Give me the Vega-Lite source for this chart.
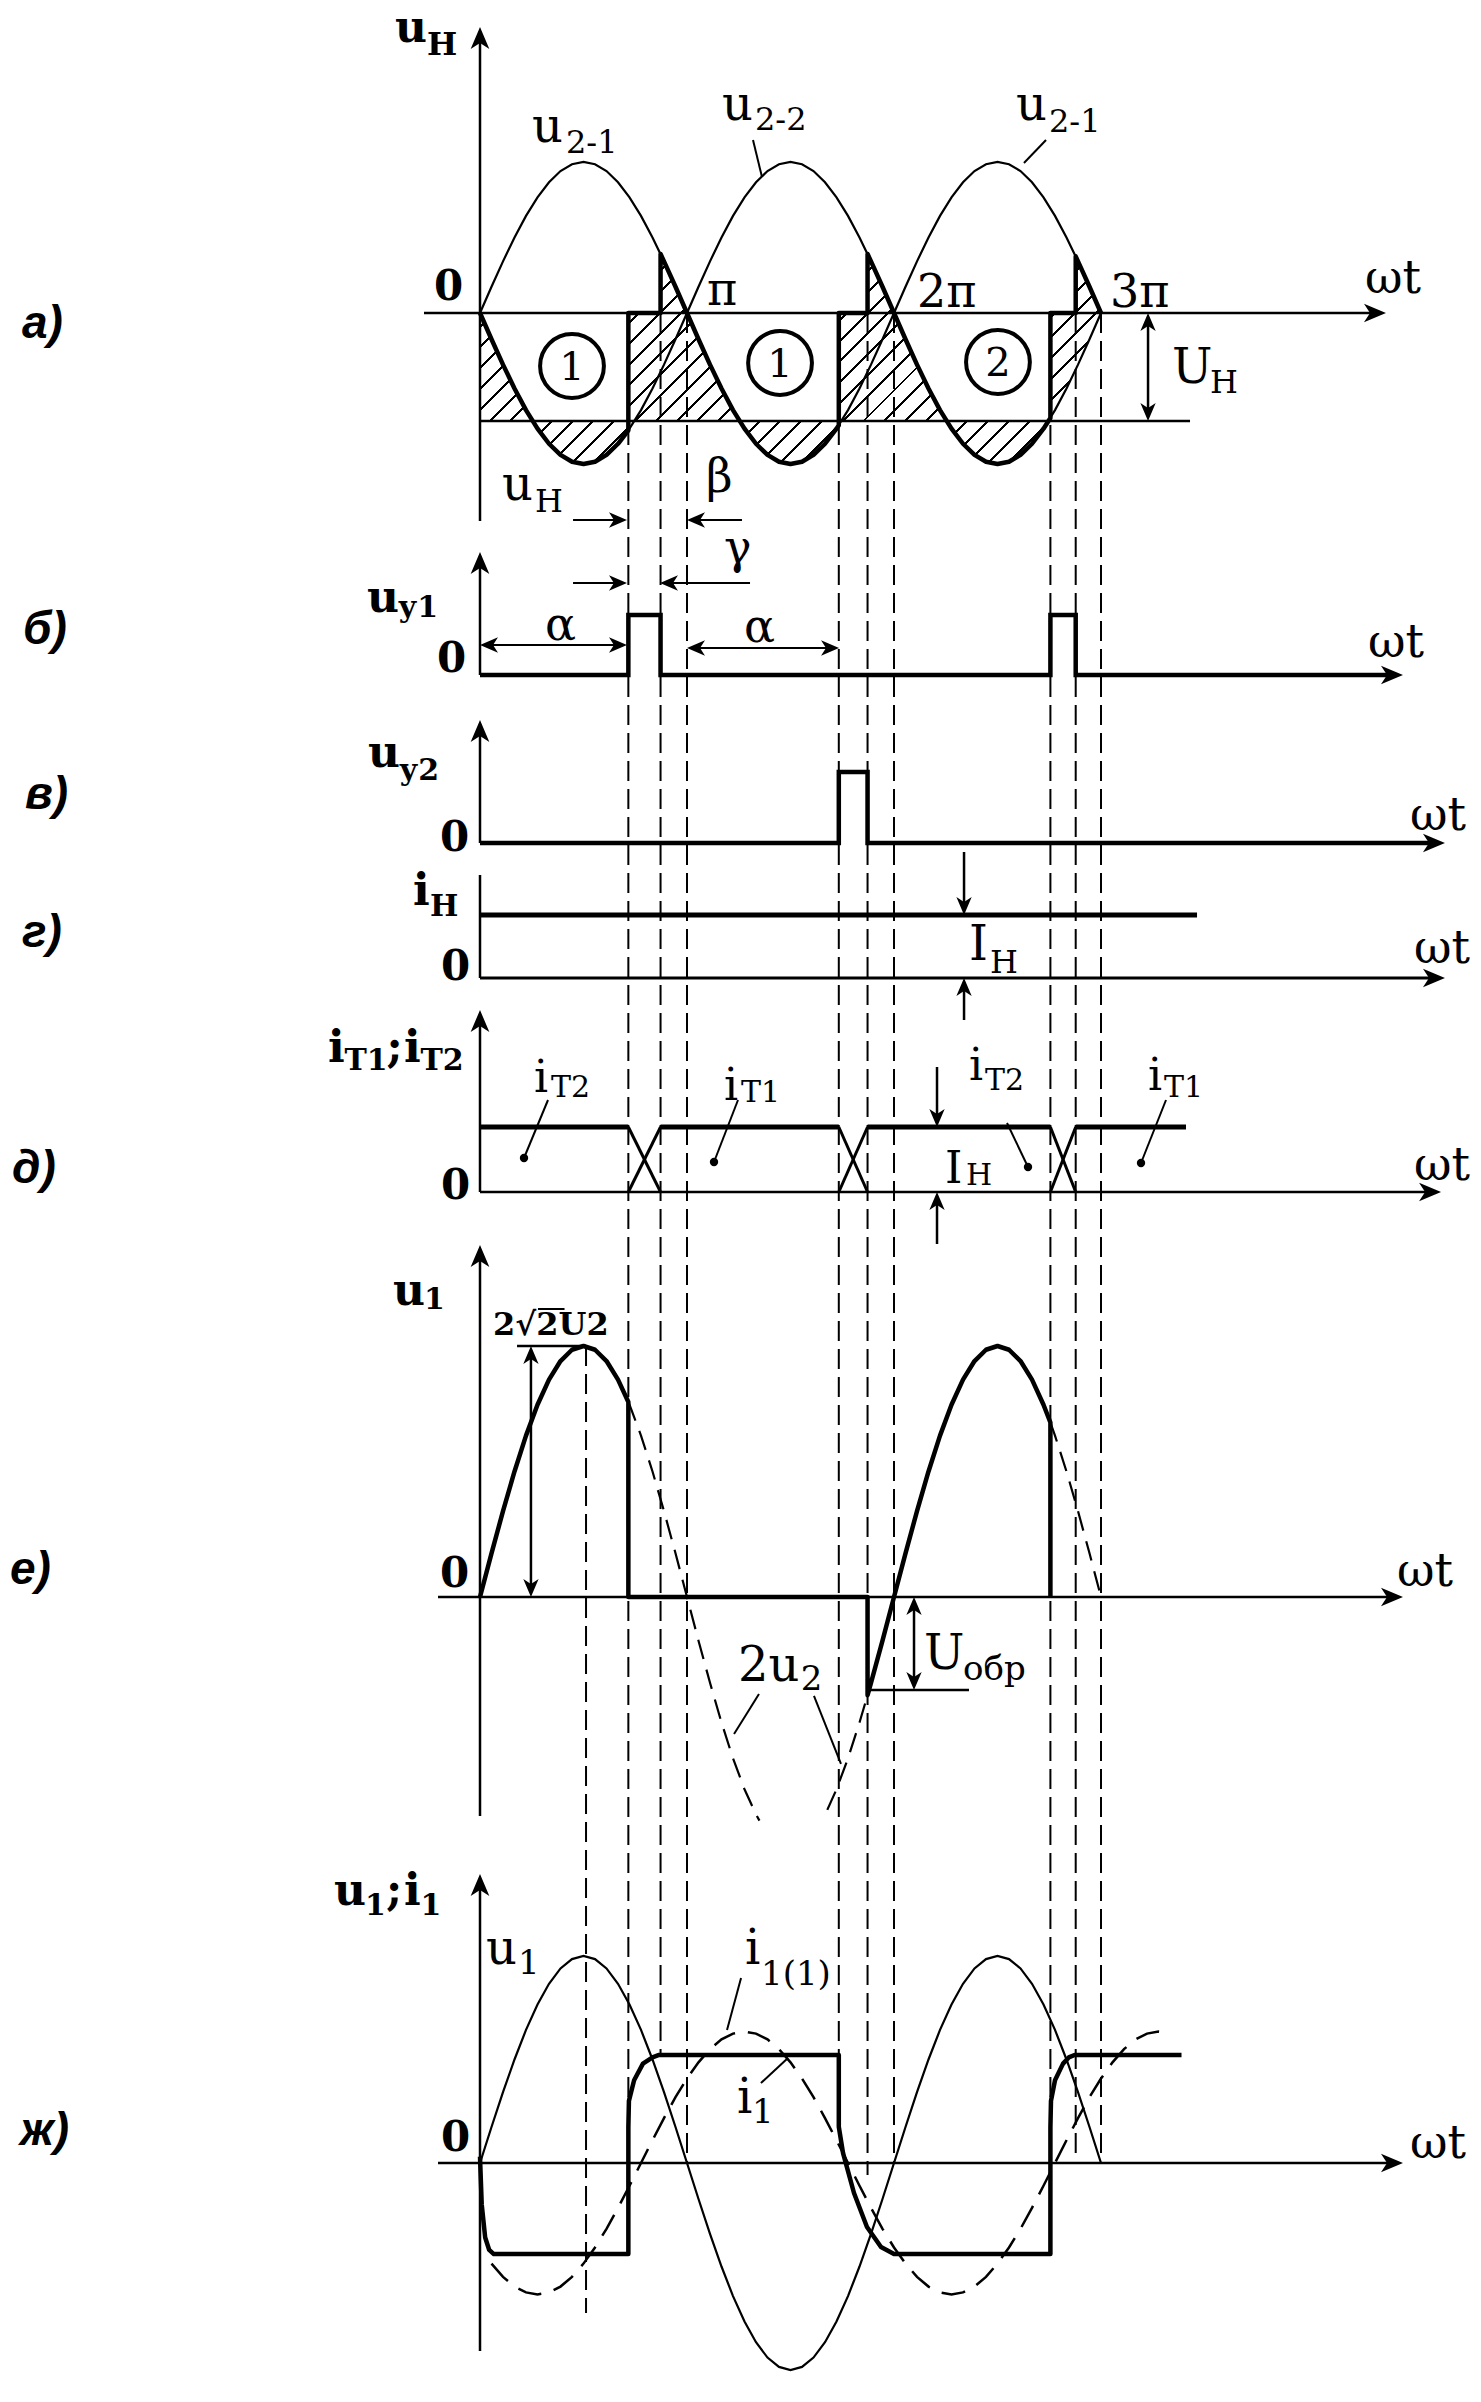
{
"$schema":"https://vega.github.io/schema/vega-lite/v6.json",
"width":1481,"height":2402,
"autosize":{"type":"fit","contains":"padding"},
"padding":0,
"background":"white",
"config":{"view":{"stroke":null},"mark":{"color":"black"},"text":{"font":"DejaVu Serif","align":"left","baseline":"alphabetic","color":"black"}},
"encoding":{"x":{"field":"t","type":"quantitative","scale":{"domain":[-417.39,870.43],"nice":false,"zero":false},"axis":null}},
"resolve":{"scale":{"y":"independent"}},
"datasets":{
"sine":[{"t":0,"v":0},{"t":10,"v":0.174},{"t":20,"v":0.342},{"t":30,"v":0.5},{"t":40,"v":0.643},{"t":50,"v":0.766},{"t":60,"v":0.866},{"t":70,"v":0.94},{"t":80,"v":0.985},{"t":90,"v":1},{"t":100,"v":0.985},{"t":110,"v":0.94},{"t":120,"v":0.866},{"t":130,"v":0.766},{"t":140,"v":0.643},{"t":150,"v":0.5},{"t":160,"v":0.342},{"t":170,"v":0.174},{"t":180,"v":0},{"t":190,"v":-0.174},{"t":200,"v":-0.342},{"t":210,"v":-0.5},{"t":220,"v":-0.643},{"t":230,"v":-0.766},{"t":240,"v":-0.866},{"t":250,"v":-0.94},{"t":260,"v":-0.985},{"t":270,"v":-1},{"t":280,"v":-0.985},{"t":290,"v":-0.94},{"t":300,"v":-0.866},{"t":310,"v":-0.766},{"t":320,"v":-0.643},{"t":330,"v":-0.5},{"t":340,"v":-0.342},{"t":350,"v":-0.174},{"t":360,"v":0},{"t":370,"v":0.174},{"t":380,"v":0.342},{"t":390,"v":0.5},{"t":400,"v":0.643},{"t":410,"v":0.766},{"t":420,"v":0.866},{"t":430,"v":0.94},{"t":440,"v":0.985},{"t":450,"v":1},{"t":460,"v":0.985},{"t":470,"v":0.94},{"t":480,"v":0.866},{"t":490,"v":0.766},{"t":500,"v":0.643},{"t":510,"v":0.5},{"t":520,"v":0.342},{"t":530,"v":0.174},{"t":540,"v":0}],
"nsine":[{"t":0,"v":0},{"t":10,"v":-0.174},{"t":20,"v":-0.342},{"t":30,"v":-0.5},{"t":40,"v":-0.643},{"t":50,"v":-0.766},{"t":60,"v":-0.866},{"t":70,"v":-0.94},{"t":80,"v":-0.985},{"t":90,"v":-1},{"t":100,"v":-0.985},{"t":110,"v":-0.94},{"t":120,"v":-0.866},{"t":130,"v":-0.766},{"t":140,"v":-0.643},{"t":150,"v":-0.5},{"t":160,"v":-0.342},{"t":170,"v":-0.174},{"t":180,"v":0},{"t":190,"v":0.174},{"t":200,"v":0.342},{"t":210,"v":0.5},{"t":220,"v":0.643},{"t":230,"v":0.766},{"t":240,"v":0.866},{"t":250,"v":0.94},{"t":260,"v":0.985},{"t":270,"v":1},{"t":280,"v":0.985},{"t":290,"v":0.94},{"t":300,"v":0.866},{"t":310,"v":0.766},{"t":320,"v":0.643},{"t":330,"v":0.5},{"t":340,"v":0.342},{"t":350,"v":0.174},{"t":360,"v":0},{"t":370,"v":-0.174},{"t":380,"v":-0.342},{"t":390,"v":-0.5},{"t":400,"v":-0.643},{"t":410,"v":-0.766},{"t":420,"v":-0.866},{"t":430,"v":-0.94},{"t":440,"v":-0.985},{"t":450,"v":-1},{"t":460,"v":-0.985},{"t":470,"v":-0.94},{"t":480,"v":-0.866},{"t":490,"v":-0.766},{"t":500,"v":-0.643},{"t":510,"v":-0.5},{"t":520,"v":-0.342},{"t":530,"v":-0.174},{"t":540,"v":0}],
"a_uh":[{"t":0,"v":0,"lo":-0.715},{"t":10,"v":-0.174,"lo":-0.715},{"t":20,"v":-0.342,"lo":-0.715},{"t":30,"v":-0.5,"lo":-0.715},{"t":40,"v":-0.643,"lo":-0.715},{"t":50,"v":-0.766,"lo":-0.715},{"t":60,"v":-0.866,"lo":-0.715},{"t":70,"v":-0.94,"lo":-0.715},{"t":80,"v":-0.985,"lo":-0.715},{"t":90,"v":-1,"lo":-0.715},{"t":100,"v":-0.985,"lo":-0.715},{"t":110,"v":-0.94,"lo":-0.715},{"t":120,"v":-0.866,"lo":-0.715},{"t":129,"v":-0.777,"lo":-0.715},{"t":129.01,"v":0,"lo":-0.715},{"t":157,"v":0,"lo":-0.715},{"t":157.01,"v":0.391,"lo":-0.715},{"t":160,"v":0.342,"lo":-0.715},{"t":170,"v":0.174,"lo":-0.715},{"t":180,"v":0,"lo":-0.715},{"t":190,"v":-0.174,"lo":-0.715},{"t":200,"v":-0.342,"lo":-0.715},{"t":210,"v":-0.5,"lo":-0.715},{"t":220,"v":-0.643,"lo":-0.715},{"t":230,"v":-0.766,"lo":-0.715},{"t":240,"v":-0.866,"lo":-0.715},{"t":250,"v":-0.94,"lo":-0.715},{"t":260,"v":-0.985,"lo":-0.715},{"t":270,"v":-1,"lo":-0.715},{"t":280,"v":-0.985,"lo":-0.715},{"t":290,"v":-0.94,"lo":-0.715},{"t":300,"v":-0.866,"lo":-0.715},{"t":310,"v":-0.766,"lo":-0.715},{"t":312,"v":-0.743,"lo":-0.715},{"t":312.01,"v":0,"lo":-0.715},{"t":337,"v":0,"lo":-0.715},{"t":337.01,"v":0.391,"lo":-0.715},{"t":340,"v":0.342,"lo":-0.715},{"t":350,"v":0.174,"lo":-0.715},{"t":360,"v":0,"lo":-0.715},{"t":370,"v":-0.174,"lo":-0.715},{"t":380,"v":-0.342,"lo":-0.715},{"t":390,"v":-0.5,"lo":-0.715},{"t":400,"v":-0.643,"lo":-0.715},{"t":410,"v":-0.766,"lo":-0.715},{"t":420,"v":-0.866,"lo":-0.715},{"t":430,"v":-0.94,"lo":-0.715},{"t":440,"v":-0.985,"lo":-0.715},{"t":450,"v":-1,"lo":-0.715},{"t":460,"v":-0.985,"lo":-0.715},{"t":470,"v":-0.94,"lo":-0.715},{"t":480,"v":-0.866,"lo":-0.715},{"t":490,"v":-0.766,"lo":-0.715},{"t":496,"v":-0.695,"lo":-0.715},{"t":496.01,"v":0,"lo":-0.695},{"t":500,"v":0,"lo":-0.643},{"t":510,"v":0,"lo":-0.5},{"t":518,"v":0,"lo":-0.375},{"t":518.01,"v":0.375,"lo":-0.375},{"t":520,"v":0.342,"lo":-0.342},{"t":530,"v":0.174,"lo":-0.174},{"t":540,"v":0,"lo":0}],
"a_h":[{"t":-48.7,"t2":780,"v":0},{"t":0,"t2":617.4,"v":-0.7152}],
"a_v":[{"t":0,"v":-1.377,"v2":1.8},{"t":580.9,"v":-0.05,"v2":-0.665}],
"a_seg":[{"t":237.4,"t2":245.2,"v":1.1457,"v2":0.9007},{"t":492.2,"t2":473.0,"v":1.1457,"v2":0.9934},{"t":80.9,"t2":121,"v":-1.3709,"v2":-1.3709},{"t":227.8,"t2":187,"v":-1.3709,"v2":-1.3709}],
"a_ax":[{"t":787.8,"v":0,"d":"r"},{"t":0,"v":1.894,"d":"u"}],
"a_dim":[{"t":580.9,"v":0,"d":"u"},{"t":580.9,"v":-0.7152,"d":"d"},{"t":127.8,"v":-1.3709,"d":"r"},{"t":180,"v":-1.3709,"d":"l"}],
"a_circ":[{"t":80,"v":-0.351,"s":"1"},{"t":260.9,"v":-0.331,"s":"1"},{"t":450.4,"v":-0.3245,"s":"2"}],
"a_M":[{"t":45.22,"v":1.1325,"s":"u"},{"t":210.43,"v":1.2781,"s":"u"},{"t":466.09,"v":1.2781,"s":"u"},{"t":601.74,"v":-0.4636,"s":"U"},{"t":19.13,"v":-1.2384,"s":"u"}],
"a_S":[{"t":74.78,"v":1.0596,"s":"2-1"},{"t":239.13,"v":1.2119,"s":"2-2"},{"t":494.78,"v":1.1987,"s":"2-1"},{"t":634.78,"v":-0.5298,"s":"Н"},{"t":47.83,"v":-1.3179,"s":"Н"}],
"a_B":[{"t":-73.91,"v":1.7947,"s":"u"}],
"a_BS":[{"t":-46.09,"v":1.7086,"s":"Н"}],
"a_W":[{"t":197.39,"v":0.053,"s":"π"},{"t":380,"v":0.0397,"s":"2π"},{"t":547.83,"v":0.0397,"s":"3π"},{"t":769.57,"v":0.1325,"s":"ωt"},{"t":196.52,"v":-1.1854,"s":"β"}],
"a_Z":[{"t":-40,"v":0.0861,"s":"0"}],
"a_L":[{"t":-398.26,"v":-0.1656,"s":"а)"}],
"b_line":[{"t":0,"v":0},{"t":129,"v":0},{"t":129.01,"v":1},{"t":157,"v":1},{"t":157.01,"v":0},{"t":496,"v":0},{"t":496.01,"v":1},{"t":518,"v":1},{"t":518.01,"v":0},{"t":795,"v":0}],
"b_v":[{"t":0,"v":0,"v2":1.82}],
"b_seg":[{"t":7,"t2":121,"v":0.5,"v2":0.5},{"t":187,"t2":305,"v":0.45,"v2":0.45},{"t":80.9,"t2":121,"v":1.5333,"v2":1.5333},{"t":234.8,"t2":163,"v":1.5333,"v2":1.5333}],
"b_ax":[{"t":802.6,"v":0,"d":"r"},{"t":0,"v":2.05,"d":"u"}],
"b_dim":[{"t":0,"v":0.5,"d":"l"},{"t":127.8,"v":0.5,"d":"r"},{"t":180,"v":0.45,"d":"l"},{"t":312.2,"v":0.45,"d":"r"},{"t":127.8,"v":1.5333,"d":"r"},{"t":156.5,"v":1.5333,"d":"l"}],
"b_B":[{"t":-98.26,"v":1.05,"s":"u"}],
"b_BS":[{"t":-71.3,"v":0.9667,"s":"у1"}],
"b_W":[{"t":56.52,"v":0.5833,"s":"α"},{"t":229.57,"v":0.55,"s":"α"},{"t":212.17,"v":1.8667,"s":"γ"},{"t":772.17,"v":0.3,"s":"ωt"}],
"b_Z":[{"t":-37.39,"v":0.05,"s":"0"}],
"b_L":[{"t":-397.39,"v":0.5167,"s":"б)"}],
"v_line":[{"t":0,"v":0},{"t":312,"v":0},{"t":312.01,"v":1},{"t":337,"v":1},{"t":337.01,"v":0},{"t":830,"v":0}],
"v_v":[{"t":0,"v":0,"v2":1.55}],
"v_ax":[{"t":839.1,"v":0,"d":"r"},{"t":0,"v":1.7324,"d":"u"}],
"v_B":[{"t":-97.39,"v":1.0704,"s":"u"}],
"v_BS":[{"t":-70.43,"v":0.8873,"s":"у2"}],
"v_W":[{"t":808.7,"v":0.1831,"s":"ωt"}],
"v_Z":[{"t":-34.78,"v":-0.1127,"s":"0"}],
"v_L":[{"t":-395.65,"v":0.4789,"s":"в)"}],
"g_lvl":[{"t":0,"t2":623.5,"v":1}],
"g_base":[{"t":0,"t2":830,"v":0}],
"g_v":[{"t":0,"v":0,"v2":1.635},{"t":420.9,"v":2.0,"v2":1.13},{"t":420.9,"v":-0.6667,"v2":-0.13}],
"g_ax":[{"t":839.1,"v":0,"d":"r"}],
"g_dim":[{"t":420.9,"v":1,"d":"d"},{"t":420.9,"v":0,"d":"u"}],
"g_B":[{"t":-58.26,"v":1.1587,"s":"i"}],
"g_BS":[{"t":-43.48,"v":0.9841,"s":"Н"}],
"g_M":[{"t":425.22,"v":0.2857,"s":"I"}],
"g_S":[{"t":443.48,"v":0.0794,"s":"Н"}],
"g_W":[{"t":812.17,"v":0.2381,"s":"ωt"}],
"g_Z":[{"t":-33.91,"v":-0.0317,"s":"0"}],
"g_L":[{"t":-398.26,"v":0.4921,"s":"г)"}],
"d_lvl":[{"t":0,"t2":129,"v":1},{"t":157,"t2":312,"v":1},{"t":337,"t2":496,"v":1},{"t":518,"t2":613.9,"v":1}],
"d_x":[{"t":129,"t2":157,"v":1,"v2":0},{"t":129,"t2":157,"v":0,"v2":1},{"t":312,"t2":337,"v":1,"v2":0},{"t":312,"t2":337,"v":0,"v2":1},{"t":496,"t2":518,"v":1,"v2":0},{"t":496,"t2":518,"v":0,"v2":1}],
"d_base":[{"t":0,"t2":827,"v":0}],
"d_v":[{"t":0,"v":0,"v2":2.6},{"t":397.4,"v":1.923,"v2":1.13},{"t":397.4,"v":-0.8,"v2":-0.13}],
"d_lead":[{"t":59.13,"t2":38.26,"v":1.4154,"v2":0.5231},{"t":224.35,"t2":203.48,"v":1.4154,"v2":0.4615},{"t":458.26,"t2":476.52,"v":1.0615,"v2":0.3846},{"t":596.52,"t2":574.78,"v":1.4154,"v2":0.4462}],
"d_dot":[{"t":38.26,"v":0.5231},{"t":203.48,"v":0.4615},{"t":476.52,"v":0.3846},{"t":574.78,"v":0.4462}],
"d_ax":[{"t":835.7,"v":0,"d":"r"},{"t":0,"v":2.8,"d":"u"}],
"d_dim":[{"t":397.4,"v":1,"d":"d"},{"t":397.4,"v":0,"d":"u"}],
"d_B":[{"t":-132.17,"v":2.0,"s":"i"},{"t":-81.3,"v":2.0,"s":";"},{"t":-66.09,"v":2.0,"s":"i"}],
"d_BS":[{"t":-117.83,"v":1.8769,"s":"Т1"},{"t":-51.74,"v":1.8769,"s":"Т2"}],
"d_M":[{"t":46.96,"v":1.5385,"s":"i"},{"t":212.17,"v":1.4154,"s":"i"},{"t":425.22,"v":1.7231,"s":"i"},{"t":580.87,"v":1.5692,"s":"i"},{"t":404.35,"v":0.1385,"s":"I"}],
"d_S":[{"t":61.74,"v":1.4615,"s":"Т2"},{"t":226.96,"v":1.3846,"s":"Т1"},{"t":439.13,"v":1.5692,"s":"Т2"},{"t":594.78,"v":1.4615,"s":"Т1"},{"t":422.61,"v":0.1077,"s":"Н"}],
"d_W":[{"t":812.17,"v":0.1846,"s":"ωt"}],
"d_Z":[{"t":-33.91,"v":-0.1077,"s":"0"}],
"d_L":[{"t":-406.96,"v":0.1385,"s":"д)"}],
"e_u1":[{"t":0,"v":0},{"t":10,"v":0.174},{"t":20,"v":0.342},{"t":30,"v":0.5},{"t":40,"v":0.643},{"t":50,"v":0.766},{"t":60,"v":0.866},{"t":70,"v":0.94},{"t":80,"v":0.985},{"t":90,"v":1},{"t":100,"v":0.985},{"t":110,"v":0.94},{"t":120,"v":0.866},{"t":129,"v":0.777},{"t":129.01,"v":0},{"t":337,"v":0},{"t":337.01,"v":-0.391},{"t":340,"v":-0.342},{"t":350,"v":-0.174},{"t":360,"v":0},{"t":370,"v":0.174},{"t":380,"v":0.342},{"t":390,"v":0.5},{"t":400,"v":0.643},{"t":410,"v":0.766},{"t":420,"v":0.866},{"t":430,"v":0.94},{"t":440,"v":0.985},{"t":450,"v":1},{"t":460,"v":0.985},{"t":470,"v":0.94},{"t":480,"v":0.866},{"t":490,"v":0.766},{"t":496,"v":0.695},{"t":496.01,"v":0}],
"e_2u2":[{"g":1,"t":129,"v":0.777},{"g":1,"t":130,"v":0.766},{"g":1,"t":140,"v":0.643},{"g":1,"t":150,"v":0.5},{"g":1,"t":160,"v":0.342},{"g":1,"t":170,"v":0.174},{"g":1,"t":180,"v":0},{"g":1,"t":190,"v":-0.174},{"g":1,"t":200,"v":-0.342},{"g":1,"t":210,"v":-0.5},{"g":1,"t":220,"v":-0.643},{"g":1,"t":230,"v":-0.766},{"g":1,"t":240,"v":-0.866},{"g":1,"t":243,"v":-0.891},{"g":2,"t":302,"v":-0.848},{"g":2,"t":310,"v":-0.766},{"g":2,"t":320,"v":-0.643},{"g":2,"t":330,"v":-0.5},{"g":2,"t":337,"v":-0.391},{"g":3,"t":496,"v":0.695},{"g":3,"t":500,"v":0.643},{"g":3,"t":510,"v":0.5},{"g":3,"t":520,"v":0.342},{"g":3,"t":530,"v":0.174},{"g":3,"t":540,"v":0}],
"e_h":[{"t":-36.5,"t2":795,"v":0},{"t":32.2,"t2":92.2,"v":1},{"t":338.3,"t2":425.2,"v":-0.3705}],
"e_v":[{"t":0,"v":-0.8725,"v2":1.35},{"t":44.3,"v":0.035,"v2":0.965},{"t":377.4,"v":-0.035,"v2":-0.335}],
"e_lead":[{"t":242.6,"t2":220.9,"v":-0.3865,"v2":-0.5458},{"t":290.4,"t2":313.9,"v":-0.3944,"v2":-0.6653}],
"e_over":[{"t":50.4,"t2":73.5,"v":1.1474,"v2":1.1474}],
"e_ax":[{"t":802.6,"v":0,"d":"r"},{"t":0,"v":1.4024,"d":"u"}],
"e_dim":[{"t":44.3,"v":1,"d":"u"},{"t":44.3,"v":0,"d":"d"},{"t":377.4,"v":0,"d":"u"},{"t":377.4,"v":-0.3705,"d":"d"}],
"e_B":[{"t":-75.65,"v":1.1633,"s":"u"}],
"e_BS":[{"t":-48.7,"v":1.1474,"s":"1"}],
"e_K":[{"t":11.3,"v":1.0438,"s":"2√2U2"}],
"e_M":[{"t":386.09,"v":-0.2869,"s":"U"},{"t":224.35,"v":-0.3347,"s":"2u"}],
"e_S":[{"t":420,"v":-0.3307,"s":"обр"},{"t":279,"v":-0.3705,"s":"2"}],
"e_W":[{"t":797.39,"v":0.0438,"s":"ωt"}],
"e_Z":[{"t":-34.78,"v":0.0398,"s":"0"}],
"e_L":[{"t":-408.7,"v":0.0518,"s":"е)"}],
"z_i1":[{"t":0,"v":0.03},{"t":1.5,"v":-0.2},{"t":4.5,"v":-0.36},{"t":8,"v":-0.42},{"t":12,"v":-0.44},{"t":129,"v":-0.44},{"t":129.01,"v":0.174},{"t":129.5,"v":0.3},{"t":134,"v":0.4},{"t":141.7,"v":0.48},{"t":150,"v":0.51},{"t":155.7,"v":0.522},{"t":312,"v":0.522},{"t":312.01,"v":0.174},{"t":315.7,"v":0.048},{"t":325.2,"v":-0.145},{"t":336.5,"v":-0.309},{"t":348.7,"v":-0.406},{"t":360,"v":-0.44},{"t":496,"v":-0.44},{"t":496.01,"v":0.174},{"t":496.5,"v":0.3},{"t":500,"v":0.4},{"t":507,"v":0.48},{"t":512,"v":0.51},{"t":517,"v":0.522},{"t":610,"v":0.522}],
"z_i11":[{"t":10,"v":-0.486},{"t":20,"v":-0.55},{"t":30,"v":-0.597},{"t":40,"v":-0.625},{"t":50,"v":-0.635},{"t":60,"v":-0.625},{"t":70,"v":-0.597},{"t":80,"v":-0.55},{"t":90,"v":-0.486},{"t":100,"v":-0.408},{"t":110,"v":-0.318},{"t":120,"v":-0.217},{"t":130,"v":-0.11},{"t":140,"v":0},{"t":150,"v":0.11},{"t":160,"v":0.217},{"t":170,"v":0.318},{"t":180,"v":0.408},{"t":190,"v":0.486},{"t":200,"v":0.55},{"t":210,"v":0.597},{"t":220,"v":0.625},{"t":230,"v":0.635},{"t":240,"v":0.625},{"t":250,"v":0.597},{"t":260,"v":0.55},{"t":270,"v":0.486},{"t":280,"v":0.408},{"t":290,"v":0.318},{"t":300,"v":0.217},{"t":310,"v":0.11},{"t":320,"v":0},{"t":330,"v":-0.11},{"t":340,"v":-0.217},{"t":350,"v":-0.318},{"t":360,"v":-0.408},{"t":370,"v":-0.486},{"t":380,"v":-0.55},{"t":390,"v":-0.597},{"t":400,"v":-0.625},{"t":410,"v":-0.635},{"t":420,"v":-0.625},{"t":430,"v":-0.597},{"t":440,"v":-0.55},{"t":450,"v":-0.486},{"t":460,"v":-0.408},{"t":470,"v":-0.318},{"t":480,"v":-0.217},{"t":490,"v":-0.11},{"t":500,"v":0},{"t":510,"v":0.11},{"t":520,"v":0.217},{"t":530,"v":0.318},{"t":540,"v":0.408},{"t":550,"v":0.486},{"t":560,"v":0.55},{"t":570,"v":0.597},{"t":580,"v":0.625},{"t":590,"v":0.635},{"t":600,"v":0.625}],
"z_h":[{"t":-36.5,"t2":795,"v":0}],
"z_v":[{"t":0,"v":-0.9082,"v2":1.33}],
"z_lead":[{"t":227,"t2":214.8,"v":0.8937,"v2":0.6425},{"t":244.3,"t2":267.8,"v":0.3865,"v2":0.5072}],
"z_ax":[{"t":802.6,"v":0,"d":"r"},{"t":0,"v":1.3961,"d":"u"}],
"z_B":[{"t":-126.96,"v":1.2464,"s":"u"},{"t":-81.74,"v":1.2464,"s":";"},{"t":-66.09,"v":1.2464,"s":"i"}],
"z_BS":[{"t":-100,"v":1.1981,"s":"1"},{"t":-51.74,"v":1.1981,"s":"1"}],
"z_M":[{"t":5.22,"v":0.9614,"s":"u"},{"t":230.43,"v":0.9614,"s":"i"},{"t":223.48,"v":0.2415,"s":"i"}],
"z_S":[{"t":33.04,"v":0.913,"s":"1"},{"t":244.35,"v":0.8599,"s":"1(1)"},{"t":236.52,"v":0.1932,"s":"1"}],
"z_W":[{"t":808.7,"v":0.0242,"s":"ωt"}],
"z_Z":[{"t":-33.91,"v":0.058,"s":"0"}],
"z_L":[{"t":-400,"v":0.087,"s":"ж)"}],
"guides":[{"t":129,"v":8.9372,"v2":0.1739},{"t":157,"v":8.9372,"v2":0.5217},{"t":180,"v":8.9372,"v2":0},{"t":312,"v":8.9372,"v2":0.5217},{"t":337,"v":8.9372,"v2":-0.058},{"t":360,"v":8.9372,"v2":0},{"t":496,"v":8.9372,"v2":0.1739},{"t":518,"v":8.9372,"v2":0.029},{"t":540,"v":8.9372,"v2":0.029},{"t":92.2,"v":3.9469,"v2":-0.7246}]
},
"layer":[
{"encoding":{"y":{"field":"v","type":"quantitative","scale":{"domain":[-13.8344,2.0728],"nice":false,"zero":false},"axis":null}},
"layer":[
{"data":{"name":"a_uh"},"mark":{"type":"area","opacity":1,"fill":{"gradient":"linear","x1":0,"y1":0,"x2":1.2008,"y2":0.4061,"stops":[{"offset":0,"color":"#fff"},{"offset":0.0107,"color":"#fff"},{"offset":0.0107,"color":"#000"},{"offset":0.0143,"color":"#000"},{"offset":0.0143,"color":"#fff"},{"offset":0.0357,"color":"#fff"},{"offset":0.0357,"color":"#000"},{"offset":0.0393,"color":"#000"},{"offset":0.0393,"color":"#fff"},{"offset":0.0607,"color":"#fff"},{"offset":0.0607,"color":"#000"},{"offset":0.0643,"color":"#000"},{"offset":0.0643,"color":"#fff"},{"offset":0.0857,"color":"#fff"},{"offset":0.0857,"color":"#000"},{"offset":0.0893,"color":"#000"},{"offset":0.0893,"color":"#fff"},{"offset":0.1107,"color":"#fff"},{"offset":0.1107,"color":"#000"},{"offset":0.1143,"color":"#000"},{"offset":0.1143,"color":"#fff"},{"offset":0.1357,"color":"#fff"},{"offset":0.1357,"color":"#000"},{"offset":0.1393,"color":"#000"},{"offset":0.1393,"color":"#fff"},{"offset":0.1607,"color":"#fff"},{"offset":0.1607,"color":"#000"},{"offset":0.1643,"color":"#000"},{"offset":0.1643,"color":"#fff"},{"offset":0.1857,"color":"#fff"},{"offset":0.1857,"color":"#000"},{"offset":0.1893,"color":"#000"},{"offset":0.1893,"color":"#fff"},{"offset":0.2107,"color":"#fff"},{"offset":0.2107,"color":"#000"},{"offset":0.2143,"color":"#000"},{"offset":0.2143,"color":"#fff"},{"offset":0.2357,"color":"#fff"},{"offset":0.2357,"color":"#000"},{"offset":0.2393,"color":"#000"},{"offset":0.2393,"color":"#fff"},{"offset":0.2607,"color":"#fff"},{"offset":0.2607,"color":"#000"},{"offset":0.2643,"color":"#000"},{"offset":0.2643,"color":"#fff"},{"offset":0.2857,"color":"#fff"},{"offset":0.2857,"color":"#000"},{"offset":0.2893,"color":"#000"},{"offset":0.2893,"color":"#fff"},{"offset":0.3107,"color":"#fff"},{"offset":0.3107,"color":"#000"},{"offset":0.3143,"color":"#000"},{"offset":0.3143,"color":"#fff"},{"offset":0.3357,"color":"#fff"},{"offset":0.3357,"color":"#000"},{"offset":0.3393,"color":"#000"},{"offset":0.3393,"color":"#fff"},{"offset":0.3607,"color":"#fff"},{"offset":0.3607,"color":"#000"},{"offset":0.3643,"color":"#000"},{"offset":0.3643,"color":"#fff"},{"offset":0.3857,"color":"#fff"},{"offset":0.3857,"color":"#000"},{"offset":0.3893,"color":"#000"},{"offset":0.3893,"color":"#fff"},{"offset":0.4107,"color":"#fff"},{"offset":0.4107,"color":"#000"},{"offset":0.4143,"color":"#000"},{"offset":0.4143,"color":"#fff"},{"offset":0.4357,"color":"#fff"},{"offset":0.4357,"color":"#000"},{"offset":0.4393,"color":"#000"},{"offset":0.4393,"color":"#fff"},{"offset":0.4607,"color":"#fff"},{"offset":0.4607,"color":"#000"},{"offset":0.4643,"color":"#000"},{"offset":0.4643,"color":"#fff"},{"offset":0.4857,"color":"#fff"},{"offset":0.4857,"color":"#000"},{"offset":0.4893,"color":"#000"},{"offset":0.4893,"color":"#fff"},{"offset":0.5107,"color":"#fff"},{"offset":0.5107,"color":"#000"},{"offset":0.5143,"color":"#000"},{"offset":0.5143,"color":"#fff"},{"offset":0.5357,"color":"#fff"},{"offset":0.5357,"color":"#000"},{"offset":0.5393,"color":"#000"},{"offset":0.5393,"color":"#fff"},{"offset":0.5607,"color":"#fff"},{"offset":0.5607,"color":"#000"},{"offset":0.5643,"color":"#000"},{"offset":0.5643,"color":"#fff"},{"offset":0.5857,"color":"#fff"},{"offset":0.5857,"color":"#000"},{"offset":0.5893,"color":"#000"},{"offset":0.5893,"color":"#fff"},{"offset":0.6107,"color":"#fff"},{"offset":0.6107,"color":"#000"},{"offset":0.6143,"color":"#000"},{"offset":0.6143,"color":"#fff"},{"offset":0.6357,"color":"#fff"},{"offset":0.6357,"color":"#000"},{"offset":0.6393,"color":"#000"},{"offset":0.6393,"color":"#fff"},{"offset":0.6607,"color":"#fff"},{"offset":0.6607,"color":"#000"},{"offset":0.6643,"color":"#000"},{"offset":0.6643,"color":"#fff"},{"offset":0.6857,"color":"#fff"},{"offset":0.6857,"color":"#000"},{"offset":0.6893,"color":"#000"},{"offset":0.6893,"color":"#fff"},{"offset":0.7107,"color":"#fff"},{"offset":0.7107,"color":"#000"},{"offset":0.7143,"color":"#000"},{"offset":0.7143,"color":"#fff"},{"offset":0.7357,"color":"#fff"},{"offset":0.7357,"color":"#000"},{"offset":0.7393,"color":"#000"},{"offset":0.7393,"color":"#fff"},{"offset":0.7607,"color":"#fff"},{"offset":0.7607,"color":"#000"},{"offset":0.7643,"color":"#000"},{"offset":0.7643,"color":"#fff"},{"offset":0.7857,"color":"#fff"},{"offset":0.7857,"color":"#000"},{"offset":0.7893,"color":"#000"},{"offset":0.7893,"color":"#fff"},{"offset":0.8107,"color":"#fff"},{"offset":0.8107,"color":"#000"},{"offset":0.8143,"color":"#000"},{"offset":0.8143,"color":"#fff"},{"offset":0.8357,"color":"#fff"},{"offset":0.8357,"color":"#000"},{"offset":0.8393,"color":"#000"},{"offset":0.8393,"color":"#fff"},{"offset":0.8607,"color":"#fff"},{"offset":0.8607,"color":"#000"},{"offset":0.8643,"color":"#000"},{"offset":0.8643,"color":"#fff"},{"offset":0.8857,"color":"#fff"},{"offset":0.8857,"color":"#000"},{"offset":0.8893,"color":"#000"},{"offset":0.8893,"color":"#fff"},{"offset":0.9107,"color":"#fff"},{"offset":0.9107,"color":"#000"},{"offset":0.9143,"color":"#000"},{"offset":0.9143,"color":"#fff"},{"offset":0.9357,"color":"#fff"},{"offset":0.9357,"color":"#000"},{"offset":0.9393,"color":"#000"},{"offset":0.9393,"color":"#fff"},{"offset":0.9607,"color":"#fff"},{"offset":0.9607,"color":"#000"},{"offset":0.9643,"color":"#000"},{"offset":0.9643,"color":"#fff"},{"offset":0.9857,"color":"#fff"},{"offset":0.9857,"color":"#000"},{"offset":0.9893,"color":"#000"},{"offset":0.9893,"color":"#fff"},{"offset":1,"color":"#fff"}]}},"encoding":{"y2":{"field":"lo"}}},
{"data":{"name":"sine"},"mark":{"type":"line","strokeWidth":2.2}},
{"data":{"name":"nsine"},"mark":{"type":"line","strokeWidth":2.2}},
{"data":{"name":"a_uh"},"mark":{"type":"line","strokeWidth":4.5,"strokeJoin":"round"}},
{"data":{"name":"a_h"},"mark":{"type":"rule","strokeWidth":2.5},"encoding":{"x2":{"field":"t2"}}},
{"data":{"name":"a_v"},"mark":{"type":"rule","strokeWidth":2.5},"encoding":{"y2":{"field":"v2"}}},
{"data":{"name":"a_seg"},"mark":{"type":"rule","strokeWidth":2},"encoding":{"x2":{"field":"t2"},"y2":{"field":"v2"}}},
{"data":{"name":"a_ax"},"mark":{"type":"point","filled":true,"opacity":1,"size":484},"encoding":{"shape":{"field":"d","type":"nominal","scale":{"domain":["r","l","u","d"],"range":["M0,0L-2,-0.85L-1.45,0L-2,0.85Z","M0,0L2,-0.85L1.45,0L2,0.85Z","M0,0L-0.85,2L0,1.45L0.85,2Z","M0,0L-0.85,-2L0,-1.45L0.85,-2Z"]},"legend":null}}},
{"data":{"name":"a_dim"},"mark":{"type":"point","filled":true,"opacity":1,"size":324},"encoding":{"shape":{"field":"d","type":"nominal","scale":{"domain":["r","l","u","d"],"range":["M0,0L-2,-0.85L-1.45,0L-2,0.85Z","M0,0L2,-0.85L1.45,0L2,0.85Z","M0,0L-0.85,2L0,1.45L0.85,2Z","M0,0L-0.85,-2L0,-1.45L0.85,-2Z"]},"legend":null}}},
{"data":{"name":"a_circ"},"mark":{"type":"point","shape":"circle","filled":false,"opacity":1,"size":4072,"strokeWidth":4}},
{"data":{"name":"a_circ"},"mark":{"type":"text","align":"center","baseline":"middle","fontSize":40,"dy":2},"encoding":{"text":{"field":"s","type":"nominal"}}},
{"data":{"name":"a_M"},"mark":{"type":"text","fontSize":48},"encoding":{"text":{"field":"s","type":"nominal"}}},
{"data":{"name":"a_S"},"mark":{"type":"text","fontSize":32},"encoding":{"text":{"field":"s","type":"nominal"}}},
{"data":{"name":"a_B"},"mark":{"type":"text","fontSize":44,"fontWeight":"bold"},"encoding":{"text":{"field":"s","type":"nominal"}}},
{"data":{"name":"a_BS"},"mark":{"type":"text","fontSize":32,"fontWeight":"bold"},"encoding":{"text":{"field":"s","type":"nominal"}}},
{"data":{"name":"a_W"},"mark":{"type":"text","fontSize":46},"encoding":{"text":{"field":"s","type":"nominal"}}},
{"data":{"name":"a_Z"},"mark":{"type":"text","fontSize":42,"fontWeight":"bold"},"encoding":{"text":{"field":"s","type":"nominal"}}},
{"data":{"name":"a_L"},"mark":{"type":"text","fontSize":46,"font":"Liberation Sans","fontWeight":"bold","fontStyle":"italic"},"encoding":{"text":{"field":"s","type":"nominal"}}}
]},
{"encoding":{"y":{"field":"v","type":"quantitative","scale":{"domain":[-28.7833,11.25],"nice":false,"zero":false},"axis":null}},
"layer":[
{"data":{"name":"b_line"},"mark":{"type":"line","strokeWidth":4.5}},
{"data":{"name":"b_v"},"mark":{"type":"rule","strokeWidth":2.5},"encoding":{"y2":{"field":"v2"}}},
{"data":{"name":"b_seg"},"mark":{"type":"rule","strokeWidth":2},"encoding":{"x2":{"field":"t2"},"y2":{"field":"v2"}}},
{"data":{"name":"b_ax"},"mark":{"type":"point","filled":true,"opacity":1,"size":484},"encoding":{"shape":{"field":"d","type":"nominal","scale":{"domain":["r","l","u","d"],"range":["M0,0L-2,-0.85L-1.45,0L-2,0.85Z","M0,0L2,-0.85L1.45,0L2,0.85Z","M0,0L-0.85,2L0,1.45L0.85,2Z","M0,0L-0.85,-2L0,-1.45L0.85,-2Z"]},"legend":null}}},
{"data":{"name":"b_dim"},"mark":{"type":"point","filled":true,"opacity":1,"size":324},"encoding":{"shape":{"field":"d","type":"nominal","scale":{"domain":["r","l","u","d"],"range":["M0,0L-2,-0.85L-1.45,0L-2,0.85Z","M0,0L2,-0.85L1.45,0L2,0.85Z","M0,0L-0.85,2L0,1.45L0.85,2Z","M0,0L-0.85,-2L0,-1.45L0.85,-2Z"]},"legend":null}}},
{"data":{"name":"b_B"},"mark":{"type":"text","fontSize":44,"fontWeight":"bold"},"encoding":{"text":{"field":"s","type":"nominal"}}},
{"data":{"name":"b_BS"},"mark":{"type":"text","fontSize":30,"fontWeight":"bold"},"encoding":{"text":{"field":"s","type":"nominal"}}},
{"data":{"name":"b_W"},"mark":{"type":"text","fontSize":46},"encoding":{"text":{"field":"s","type":"nominal"}}},
{"data":{"name":"b_Z"},"mark":{"type":"text","fontSize":42,"fontWeight":"bold"},"encoding":{"text":{"field":"s","type":"nominal"}}},
{"data":{"name":"b_L"},"mark":{"type":"text","fontSize":46,"font":"Liberation Sans","fontWeight":"bold","fontStyle":"italic"},"encoding":{"text":{"field":"s","type":"nominal"}}}
]},
{"encoding":{"y":{"field":"v","type":"quantitative","scale":{"domain":[-21.9577,11.8732],"nice":false,"zero":false},"axis":null}},
"layer":[
{"data":{"name":"v_line"},"mark":{"type":"line","strokeWidth":4.5}},
{"data":{"name":"v_v"},"mark":{"type":"rule","strokeWidth":2.5},"encoding":{"y2":{"field":"v2"}}},
{"data":{"name":"v_ax"},"mark":{"type":"point","filled":true,"opacity":1,"size":484},"encoding":{"shape":{"field":"d","type":"nominal","scale":{"domain":["r","l","u","d"],"range":["M0,0L-2,-0.85L-1.45,0L-2,0.85Z","M0,0L2,-0.85L1.45,0L2,0.85Z","M0,0L-0.85,2L0,1.45L0.85,2Z","M0,0L-0.85,-2L0,-1.45L0.85,-2Z"]},"legend":null}}},
{"data":{"name":"v_B"},"mark":{"type":"text","fontSize":44,"fontWeight":"bold"},"encoding":{"text":{"field":"s","type":"nominal"}}},
{"data":{"name":"v_BS"},"mark":{"type":"text","fontSize":30,"fontWeight":"bold"},"encoding":{"text":{"field":"s","type":"nominal"}}},
{"data":{"name":"v_W"},"mark":{"type":"text","fontSize":46},"encoding":{"text":{"field":"s","type":"nominal"}}},
{"data":{"name":"v_Z"},"mark":{"type":"text","fontSize":42,"fontWeight":"bold"},"encoding":{"text":{"field":"s","type":"nominal"}}},
{"data":{"name":"v_L"},"mark":{"type":"text","fontSize":46,"font":"Liberation Sans","fontWeight":"bold","fontStyle":"italic"},"encoding":{"text":{"field":"s","type":"nominal"}}}
]},
{"encoding":{"y":{"field":"v","type":"quantitative","scale":{"domain":[-22.6032,15.5238],"nice":false,"zero":false},"axis":null}},
"layer":[
{"data":{"name":"g_lvl"},"mark":{"type":"rule","strokeWidth":5},"encoding":{"x2":{"field":"t2"}}},
{"data":{"name":"g_base"},"mark":{"type":"rule","strokeWidth":3},"encoding":{"x2":{"field":"t2"}}},
{"data":{"name":"g_v"},"mark":{"type":"rule","strokeWidth":2.5},"encoding":{"y2":{"field":"v2"}}},
{"data":{"name":"g_ax"},"mark":{"type":"point","filled":true,"opacity":1,"size":484},"encoding":{"shape":{"field":"d","type":"nominal","scale":{"domain":["r","l","u","d"],"range":["M0,0L-2,-0.85L-1.45,0L-2,0.85Z","M0,0L2,-0.85L1.45,0L2,0.85Z","M0,0L-0.85,2L0,1.45L0.85,2Z","M0,0L-0.85,-2L0,-1.45L0.85,-2Z"]},"legend":null}}},
{"data":{"name":"g_dim"},"mark":{"type":"point","filled":true,"opacity":1,"size":324},"encoding":{"shape":{"field":"d","type":"nominal","scale":{"domain":["r","l","u","d"],"range":["M0,0L-2,-0.85L-1.45,0L-2,0.85Z","M0,0L2,-0.85L1.45,0L2,0.85Z","M0,0L-0.85,2L0,1.45L0.85,2Z","M0,0L-0.85,-2L0,-1.45L0.85,-2Z"]},"legend":null}}},
{"data":{"name":"g_B"},"mark":{"type":"text","fontSize":44,"fontWeight":"bold"},"encoding":{"text":{"field":"s","type":"nominal"}}},
{"data":{"name":"g_BS"},"mark":{"type":"text","fontSize":30,"fontWeight":"bold"},"encoding":{"text":{"field":"s","type":"nominal"}}},
{"data":{"name":"g_M"},"mark":{"type":"text","fontSize":48},"encoding":{"text":{"field":"s","type":"nominal"}}},
{"data":{"name":"g_S"},"mark":{"type":"text","fontSize":32},"encoding":{"text":{"field":"s","type":"nominal"}}},
{"data":{"name":"g_W"},"mark":{"type":"text","fontSize":46},"encoding":{"text":{"field":"s","type":"nominal"}}},
{"data":{"name":"g_Z"},"mark":{"type":"text","fontSize":42,"fontWeight":"bold"},"encoding":{"text":{"field":"s","type":"nominal"}}},
{"data":{"name":"g_L"},"mark":{"type":"text","fontSize":46,"font":"Liberation Sans","fontWeight":"bold","fontStyle":"italic"},"encoding":{"text":{"field":"s","type":"nominal"}}}
]},
{"encoding":{"y":{"field":"v","type":"quantitative","scale":{"domain":[-18.6154,18.3385],"nice":false,"zero":false},"axis":null}},
"layer":[
{"data":{"name":"d_lvl"},"mark":{"type":"rule","strokeWidth":5},"encoding":{"x2":{"field":"t2"}}},
{"data":{"name":"d_x"},"mark":{"type":"rule","strokeWidth":3},"encoding":{"x2":{"field":"t2"},"y2":{"field":"v2"}}},
{"data":{"name":"d_base"},"mark":{"type":"rule","strokeWidth":2.5},"encoding":{"x2":{"field":"t2"}}},
{"data":{"name":"d_v"},"mark":{"type":"rule","strokeWidth":2.5},"encoding":{"y2":{"field":"v2"}}},
{"data":{"name":"d_lead"},"mark":{"type":"rule","strokeWidth":2},"encoding":{"x2":{"field":"t2"},"y2":{"field":"v2"}}},
{"data":{"name":"d_dot"},"mark":{"type":"point","shape":"circle","filled":true,"opacity":1,"size":70}},
{"data":{"name":"d_ax"},"mark":{"type":"point","filled":true,"opacity":1,"size":484},"encoding":{"shape":{"field":"d","type":"nominal","scale":{"domain":["r","l","u","d"],"range":["M0,0L-2,-0.85L-1.45,0L-2,0.85Z","M0,0L2,-0.85L1.45,0L2,0.85Z","M0,0L-0.85,2L0,1.45L0.85,2Z","M0,0L-0.85,-2L0,-1.45L0.85,-2Z"]},"legend":null}}},
{"data":{"name":"d_dim"},"mark":{"type":"point","filled":true,"opacity":1,"size":324},"encoding":{"shape":{"field":"d","type":"nominal","scale":{"domain":["r","l","u","d"],"range":["M0,0L-2,-0.85L-1.45,0L-2,0.85Z","M0,0L2,-0.85L1.45,0L2,0.85Z","M0,0L-0.85,2L0,1.45L0.85,2Z","M0,0L-0.85,-2L0,-1.45L0.85,-2Z"]},"legend":null}}},
{"data":{"name":"d_B"},"mark":{"type":"text","fontSize":44,"fontWeight":"bold"},"encoding":{"text":{"field":"s","type":"nominal"}}},
{"data":{"name":"d_BS"},"mark":{"type":"text","fontSize":30,"fontWeight":"bold"},"encoding":{"text":{"field":"s","type":"nominal"}}},
{"data":{"name":"d_M"},"mark":{"type":"text","fontSize":44},"encoding":{"text":{"field":"s","type":"nominal"}}},
{"data":{"name":"d_S"},"mark":{"type":"text","fontSize":30},"encoding":{"text":{"field":"s","type":"nominal"}}},
{"data":{"name":"d_W"},"mark":{"type":"text","fontSize":46},"encoding":{"text":{"field":"s","type":"nominal"}}},
{"data":{"name":"d_Z"},"mark":{"type":"text","fontSize":42,"fontWeight":"bold"},"encoding":{"text":{"field":"s","type":"nominal"}}},
{"data":{"name":"d_L"},"mark":{"type":"text","fontSize":46,"font":"Liberation Sans","fontWeight":"bold","fontStyle":"italic"},"encoding":{"text":{"field":"s","type":"nominal"}}}
]},
{"encoding":{"y":{"field":"v","type":"quantitative","scale":{"domain":[-3.2072,6.3625],"nice":false,"zero":false},"axis":null}},
"layer":[
{"data":{"name":"e_2u2"},"mark":{"type":"line","strokeWidth":2.2,"strokeDash":[20,11]},"encoding":{"detail":{"field":"g","type":"nominal"}}},
{"data":{"name":"e_h"},"mark":{"type":"rule","strokeWidth":2.5},"encoding":{"x2":{"field":"t2"}}},
{"data":{"name":"e_v"},"mark":{"type":"rule","strokeWidth":2.5},"encoding":{"y2":{"field":"v2"}}},
{"data":{"name":"e_u1"},"mark":{"type":"line","strokeWidth":4.5,"strokeJoin":"round"}},
{"data":{"name":"e_lead"},"mark":{"type":"rule","strokeWidth":2},"encoding":{"x2":{"field":"t2"},"y2":{"field":"v2"}}},
{"data":{"name":"e_over"},"mark":{"type":"rule","strokeWidth":2},"encoding":{"x2":{"field":"t2"},"y2":{"field":"v2"}}},
{"data":{"name":"e_ax"},"mark":{"type":"point","filled":true,"opacity":1,"size":484},"encoding":{"shape":{"field":"d","type":"nominal","scale":{"domain":["r","l","u","d"],"range":["M0,0L-2,-0.85L-1.45,0L-2,0.85Z","M0,0L2,-0.85L1.45,0L2,0.85Z","M0,0L-0.85,2L0,1.45L0.85,2Z","M0,0L-0.85,-2L0,-1.45L0.85,-2Z"]},"legend":null}}},
{"data":{"name":"e_dim"},"mark":{"type":"point","filled":true,"opacity":1,"size":324},"encoding":{"shape":{"field":"d","type":"nominal","scale":{"domain":["r","l","u","d"],"range":["M0,0L-2,-0.85L-1.45,0L-2,0.85Z","M0,0L2,-0.85L1.45,0L2,0.85Z","M0,0L-0.85,2L0,1.45L0.85,2Z","M0,0L-0.85,-2L0,-1.45L0.85,-2Z"]},"legend":null}}},
{"data":{"name":"e_B"},"mark":{"type":"text","fontSize":44,"fontWeight":"bold"},"encoding":{"text":{"field":"s","type":"nominal"}}},
{"data":{"name":"e_BS"},"mark":{"type":"text","fontSize":30,"fontWeight":"bold"},"encoding":{"text":{"field":"s","type":"nominal"}}},
{"data":{"name":"e_K"},"mark":{"type":"text","fontSize":32,"fontWeight":"bold"},"encoding":{"text":{"field":"s","type":"nominal"}}},
{"data":{"name":"e_M"},"mark":{"type":"text","fontSize":48},"encoding":{"text":{"field":"s","type":"nominal"}}},
{"data":{"name":"e_S"},"mark":{"type":"text","fontSize":34},"encoding":{"text":{"field":"s","type":"nominal"}}},
{"data":{"name":"e_W"},"mark":{"type":"text","fontSize":46},"encoding":{"text":{"field":"s","type":"nominal"}}},
{"data":{"name":"e_Z"},"mark":{"type":"text","fontSize":42,"fontWeight":"bold"},"encoding":{"text":{"field":"s","type":"nominal"}}},
{"data":{"name":"e_L"},"mark":{"type":"text","fontSize":46,"font":"Liberation Sans","fontWeight":"bold","fontStyle":"italic"},"encoding":{"text":{"field":"s","type":"nominal"}}}
]},
{"encoding":{"y":{"field":"v","type":"quantitative","scale":{"domain":[-1.1546,10.4493],"nice":false,"zero":false},"axis":null}},
"layer":[
{"data":{"name":"guides"},"mark":{"type":"rule","strokeWidth":2,"strokeDash":[20,8]},"encoding":{"y2":{"field":"v2"}}},
{"data":{"name":"sine"},"mark":{"type":"line","strokeWidth":2.2}},
{"data":{"name":"z_i11"},"mark":{"type":"line","strokeWidth":2.5,"strokeDash":[24,13]}},
{"data":{"name":"z_h"},"mark":{"type":"rule","strokeWidth":2.5},"encoding":{"x2":{"field":"t2"}}},
{"data":{"name":"z_v"},"mark":{"type":"rule","strokeWidth":2.5},"encoding":{"y2":{"field":"v2"}}},
{"data":{"name":"z_i1"},"mark":{"type":"line","strokeWidth":4.5,"strokeJoin":"round"}},
{"data":{"name":"z_lead"},"mark":{"type":"rule","strokeWidth":2},"encoding":{"x2":{"field":"t2"},"y2":{"field":"v2"}}},
{"data":{"name":"z_ax"},"mark":{"type":"point","filled":true,"opacity":1,"size":484},"encoding":{"shape":{"field":"d","type":"nominal","scale":{"domain":["r","l","u","d"],"range":["M0,0L-2,-0.85L-1.45,0L-2,0.85Z","M0,0L2,-0.85L1.45,0L2,0.85Z","M0,0L-0.85,2L0,1.45L0.85,2Z","M0,0L-0.85,-2L0,-1.45L0.85,-2Z"]},"legend":null}}},
{"data":{"name":"z_B"},"mark":{"type":"text","fontSize":44,"fontWeight":"bold"},"encoding":{"text":{"field":"s","type":"nominal"}}},
{"data":{"name":"z_BS"},"mark":{"type":"text","fontSize":30,"fontWeight":"bold"},"encoding":{"text":{"field":"s","type":"nominal"}}},
{"data":{"name":"z_M"},"mark":{"type":"text","fontSize":48},"encoding":{"text":{"field":"s","type":"nominal"}}},
{"data":{"name":"z_S"},"mark":{"type":"text","fontSize":34},"encoding":{"text":{"field":"s","type":"nominal"}}},
{"data":{"name":"z_W"},"mark":{"type":"text","fontSize":46},"encoding":{"text":{"field":"s","type":"nominal"}}},
{"data":{"name":"z_Z"},"mark":{"type":"text","fontSize":42,"fontWeight":"bold"},"encoding":{"text":{"field":"s","type":"nominal"}}},
{"data":{"name":"z_L"},"mark":{"type":"text","fontSize":46,"font":"Liberation Sans","fontWeight":"bold","fontStyle":"italic"},"encoding":{"text":{"field":"s","type":"nominal"}}}
]}
]
}
